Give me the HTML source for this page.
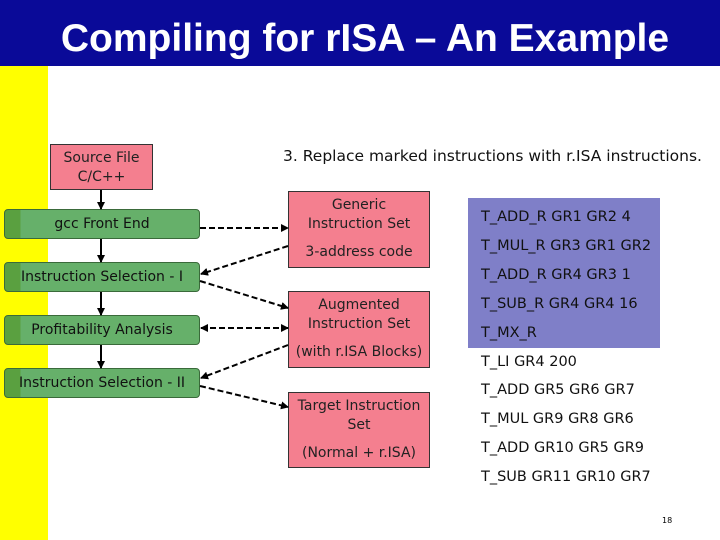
<!DOCTYPE html>
<html><head><style>
body{margin:0;width:720px;height:540px;background:#fff;position:relative;overflow:hidden;font-family:"DejaVu Sans","Liberation Sans",sans-serif;}
.hdr{position:absolute;left:0;top:0;width:720px;height:66px;background:#0a0a98;}
.title{position:absolute;left:0;width:730px;top:17px;text-align:center;color:#fff;font:bold 39px "Liberation Sans",sans-serif;}
.yel{position:absolute;left:0;top:66px;width:48px;height:474px;background:#ffff00;}
.pink{position:absolute;background:#f47f8f;border:1px solid #333;box-sizing:border-box;text-align:center;font-size:14px;color:#222;line-height:19px;}
.green{position:absolute;left:4px;width:196px;height:30px;border:1px solid #3a6a3a;border-radius:4px;box-sizing:border-box;background:linear-gradient(90deg,#5aa040 0,#5aa040 8%,#66b06a 8%);text-align:center;font-size:14px;line-height:28px;color:#111;}
.blue{position:absolute;left:468px;top:198px;width:192px;height:150px;background:#7f7fc8;}
.code{position:absolute;left:481px;font-size:14.5px;color:#111;}
</style></head><body>
<div class="hdr"></div><div class="title">Compiling for rISA – An Example</div>
<div class="yel"></div>
<div style="position:absolute;left:283px;top:147px;font-size:15.5px;color:#111;">3. Replace marked instructions with r.ISA instructions.</div>
<div class="pink" style="left:50px;top:144px;width:103px;height:46px;padding-top:4px;">Source File<br>C/C++</div>
<div class="pink" style="left:288px;top:191px;width:142px;height:77px;padding-top:4px;">Generic<br>Instruction Set<div style="margin-top:9px">3-address code</div></div>
<div class="pink" style="left:288px;top:291px;width:142px;height:77px;padding-top:4px;">Augmented<br>Instruction Set<div style="margin-top:9px">(with r.ISA Blocks)</div></div>
<div class="pink" style="left:288px;top:392px;width:142px;height:76px;padding-top:4px;">Target Instruction<br>Set<div style="margin-top:9px">(Normal + r.ISA)</div></div>
<div class="green" style="top:209px;">gcc Front End</div>
<div class="green" style="top:262px;">Instruction Selection - I</div>
<div class="green" style="top:315px;">Profitability Analysis</div>
<div class="green" style="top:368px;">Instruction Selection - II</div>
<div class="blue"></div>
<div class="code" style="top:209px">T_ADD_R GR1 GR2 4</div>
<div class="code" style="top:238px">T_MUL_R GR3 GR1 GR2</div>
<div class="code" style="top:267px">T_ADD_R GR4 GR3 1</div>
<div class="code" style="top:296px">T_SUB_R GR4 GR4 16</div>
<div class="code" style="top:325px">T_MX_R</div>
<div class="code" style="top:354px">T_LI GR4 200</div>
<div class="code" style="top:382px">T_ADD GR5 GR6 GR7</div>
<div class="code" style="top:411px">T_MUL GR9 GR8 GR6</div>
<div class="code" style="top:440px">T_ADD GR10 GR5 GR9</div>
<div class="code" style="top:469px">T_SUB GR11 GR10 GR7</div>
<div style="position:absolute;left:662px;top:516px;font-size:8px;">18</div>
<svg width="720" height="540" style="position:absolute;left:0;top:0">
<defs><marker id="a" markerWidth="8" markerHeight="8" refX="7" refY="4" orient="auto" markerUnits="userSpaceOnUse"><path d="M0,0L8,4L0,8z" fill="#000"/></marker></defs>
<g stroke="#000" stroke-width="2" marker-end="url(#a)">
<line x1="101" y1="190" x2="101" y2="209"/>
<line x1="101" y1="239" x2="101" y2="262"/>
<line x1="101" y1="292" x2="101" y2="315"/>
<line x1="101" y1="345" x2="101" y2="368"/>
</g>
<g stroke="#000" stroke-width="2" stroke-dasharray="6,3" marker-end="url(#a)">
<line x1="200" y1="228" x2="288" y2="228"/>
<line x1="288" y1="246" x2="201" y2="274"/>
<line x1="200" y1="281" x2="288" y2="308"/>
<line x1="288" y1="328" x2="201" y2="328"/>
<line x1="201" y1="328" x2="288" y2="328"/>
<line x1="288" y1="345" x2="201" y2="378"/>
<line x1="200" y1="386" x2="288" y2="407"/>
</g>
</svg>
</body></html>
